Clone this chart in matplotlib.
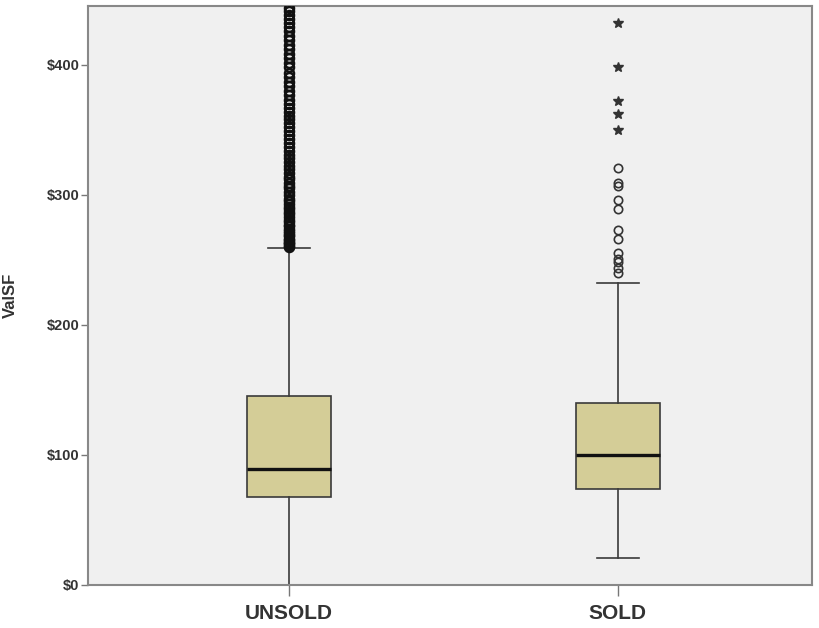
import matplotlib
matplotlib.use("Agg")
from matplotlib import pyplot as plt

# groups and five-number summaries
groups = ["UNSOLD", "SOLD"]
q1 = [68, 74]
medians = [89, 100]
q3 = [145, 140]
whisker_low = [0, 21]
whisker_high = [259, 232]

# outliers (circles) and extremes (stars)
unsold_outliers = [260, 261, 262, 263, 264, 265, 266, 268, 269, 271, 272, 274, 276, 277,
                   279, 281, 283, 285, 287, 289, 291, 293, 295, 297, 300, 302, 305, 307,
                   309, 312, 314, 317, 320, 322, 325, 328, 331, 334, 337, 340, 343, 346,
                   349, 352, 355, 358, 361, 364, 367, 370, 373, 377, 380, 384, 387, 391,
                   394, 398, 401, 405, 408, 412, 415, 419, 422, 426, 429, 432, 435, 438,
                   441, 444]
sold_outliers = [321, 309, 307, 296, 289, 273, 266, 255, 251, 248, 244, 240]
sold_extremes = [432, 398, 372, 362, 350]

BOX_COLOR = "#d4cd97"
EDGE = "#3a3a3a"
TEXT = "#333333"
FONT = ["Liberation Sans", "DejaVu Sans"]

fig = plt.figure(figsize=(8.2, 6.28), dpi=100)
ax = fig.add_axes([0.107, 0.0685, 0.883, 0.9215])
ax.set_facecolor("#f0f0f0")

stats = []
for i, name in enumerate(groups):
    stats.append({
        "label": name,
        "q1": q1[i], "med": medians[i], "q3": q3[i],
        "whislo": whisker_low[i], "whishi": whisker_high[i],
        "fliers": [],
    })

positions = [0, 1]
ax.bxp(stats, positions=positions, widths=0.255, patch_artist=True,
       showfliers=False,
       boxprops=dict(facecolor=BOX_COLOR, edgecolor=EDGE, linewidth=1.2),
       medianprops=dict(color="#111111", linewidth=2.4),
       whiskerprops=dict(color=EDGE, linewidth=1.2),
       capprops=dict(color=EDGE, linewidth=1.2))

ax.plot([positions[0]] * len(unsold_outliers), unsold_outliers, linestyle="none",
        marker="o", markersize=6.5, markerfacecolor="none", markeredgecolor="#111111",
        markeredgewidth=1.8, zorder=3)
ax.plot([positions[1]] * len(sold_outliers), sold_outliers, linestyle="none",
        marker="o", markersize=6, markerfacecolor="none", markeredgecolor="#333333",
        markeredgewidth=1.2, zorder=3)
ax.plot([positions[1]] * len(sold_extremes), sold_extremes, linestyle="none",
        marker="*", markersize=7, color="#333333", zorder=3)

ax.set_xlim(-0.612, 1.59)
ax.set_ylim(0, 445)
ax.set_yticks([0, 100, 200, 300, 400])
ax.set_yticklabels(["$0", "$100", "$200", "$300", "$400"])
ax.set_xticks(positions)
ax.set_xticklabels(groups)

for lbl in ax.get_yticklabels():
    lbl.set_fontfamily(FONT)
    lbl.set_fontsize(10.5)
    lbl.set_fontweight("bold")
    lbl.set_color(TEXT)
for lbl in ax.get_xticklabels():
    lbl.set_fontfamily(FONT)
    lbl.set_fontsize(15)
    lbl.set_fontweight("bold")
    lbl.set_color(TEXT)

ax.tick_params(axis="y", length=5, width=1, color="#777777", pad=1)
ax.tick_params(axis="x", length=8, width=1, color="#777777", pad=6)
ax.set_ylabel("ValSF", fontsize=12, fontweight="bold", family=FONT, color=TEXT)
ax.yaxis.set_label_coords(-0.097, 0.5)

for s in ax.spines.values():
    s.set_color("#888888")
    s.set_linewidth(1.5)

fig.savefig("out.png", dpi=100, facecolor="white")
